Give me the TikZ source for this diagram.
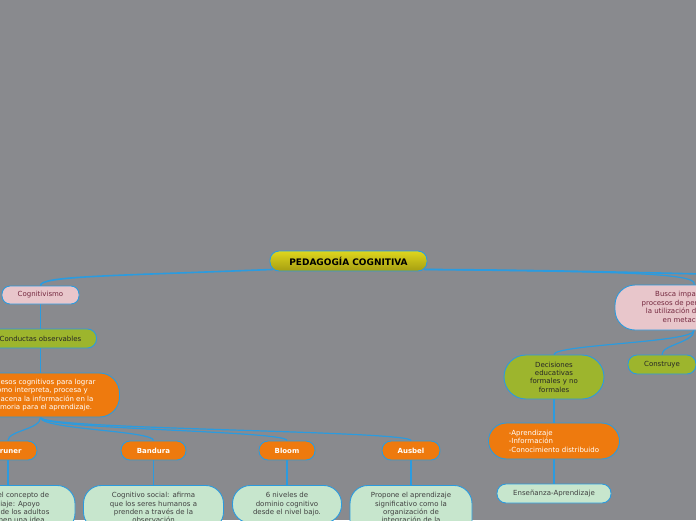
\documentclass[tikz,border=0pt]{standalone}
\usepackage{fontspec}
\setmainfont{DejaVu Sans}
\usetikzlibrary{positioning}
\definecolor{bggray}{HTML}{898A8E}
\definecolor{linkblue}{HTML}{2B9BDF}
\definecolor{mmorange}{HTML}{EE7A0E}
\definecolor{mmgreen}{HTML}{9DB52D}
\definecolor{mmpink}{HTML}{E8C6CB}
\definecolor{mmmint}{HTML}{C7E6CD}
\definecolor{mmyellowA}{HTML}{DED61E}
\definecolor{mmyellowB}{HTML}{A69E12}
\definecolor{mmmaroon}{HTML}{74283F}
\pgfdeclarelayer{bg}
\pgfsetlayers{bg,main}

\begin{document}
\begin{tikzpicture}[
  x=1pt, y=-1pt,
  every node/.style={draw=linkblue, line width=0.9pt, align=center, inner sep=2pt,
    font=\fontsize{7}{8.4}\selectfont},
  titlebox/.style={top color=mmyellowA, bottom color=mmyellowB, rounded corners=9pt,
    minimum width=157pt, minimum height=20pt, font=\fontsize{9}{10}\selectfont\bfseries},
  pinkbox/.style={fill=mmpink, text=mmmaroon},
  greenbox/.style={fill=mmgreen, text=black!85},
  orangebox/.style={fill=mmorange, text=white},
  mintbox/.style={fill=mmmint, text=black!75},
  namebox/.style={orangebox, rounded corners=9pt, minimum height=19pt,
    font=\fontsize{7}{8.4}\selectfont\bfseries},
  notebox/.style={mintbox, anchor=north, rounded corners=18pt, inner ysep=7pt},
  link/.style={draw=linkblue, line width=1.2pt}
]
\useasboundingbox (0,0) rectangle (696,520);
\clip (0,0) rectangle (696,520);

% Central topic
\node[titlebox] (title) at (348.5,261) {PEDAGOGÍA COGNITIVA};

% Left branch
\node[pinkbox, rounded corners=8pt, minimum width=77pt, minimum height=18pt] (cogn) at (40.5,295) {Cognitivismo};
\node[greenbox, rounded corners=9pt, minimum width=112pt, minimum height=19pt] (conduct) at (40.5,338.5) {Conductas observables};
\node[orangebox, rounded corners=20pt, minimum width=158pt, minimum height=44pt] (proc) at (40.5,395) {Procesos cognitivos para lograr\\cómo interpreta, procesa y\\almacena la información en la\\memoria para el aprendizaje.};

% Authors
\node[namebox, minimum width=58pt] (bruner) at (8,450.5) {Bruner};
\node[namebox, minimum width=65pt] (bandura) at (153.5,450.5) {Bandura};
\node[namebox, minimum width=56pt] (bloom) at (287,450.5) {Bloom};
\node[namebox, minimum width=58pt] (ausbel) at (411,450.5) {Ausbel};

% Author notes
\node[notebox, minimum width=134pt] (brunerN) at (8,485) {Propone el concepto de\\andamiaje: Apoyo\\temporal de los adultos\\que formen una idea};
\node[notebox, minimum width=140pt] (banduraN) at (153.5,485) {Cognitivo social: afirma\\que los seres humanos a\\prenden a través de la\\observación};
\node[notebox, minimum width=109pt] (bloomN) at (287,485) {6 niveles de\\dominio cognitivo\\desde el nivel bajo.};
\node[notebox, minimum width=122pt] (ausbelN) at (411,485) {Propone el aprendizaje\\significativo como la\\organización de\\integración de la\\información};

% Right branch
\node[pinkbox, rounded corners=20pt, minimum width=158pt, minimum height=45pt] (busca) at (694,307.5) {Busca impactar en los\\procesos de pensamiento con\\la utilización de estrategias\\en metacognición};
\node[greenbox, rounded corners=22pt, minimum width=100pt, minimum height=44pt] (decis) at (554,377) {Decisiones\\educativas\\formales y no\\formales};
\node[greenbox, rounded corners=9pt, minimum width=68pt, minimum height=19pt] (constr) at (662,364.5) {Construye};
\node[orangebox, align=left, rounded corners=18pt, minimum width=131pt, minimum height=36pt] (info) at (554,441) {-Aprendizaje\\-Información\\-Conocimiento distribuido};
\node[mintbox, rounded corners=9pt, minimum width=114pt, minimum height=19pt] (ense) at (554,493.5) {Enseñanza-Aprendizaje};

\coordinate (offright) at (820,277);

\begin{pgfonlayer}{bg}
\fill[bggray] (0,0) rectangle (696,520);

% Links from the central topic
\draw[link, line width=1.6pt] ([xshift=3pt,yshift=2pt]title.south west) .. controls (110,276) and (40.5,276) .. (cogn.north);
\draw[link, line width=1.6pt] ([xshift=-3pt,yshift=2pt]title.south east) .. controls (560,270) and (700,274) .. (offright);
\draw[link] ([xshift=-3pt,yshift=2pt]title.south east) .. controls (600,272) and (700,272) .. (busca.north);

% Left branch links
\draw[link] (cogn) -- (conduct);
\draw[link] (conduct) -- (proc);
\draw[link] (proc.south) .. controls +(0,12) and +(0,-10) .. (bruner.north);
\draw[link] (proc.south) .. controls +(0,12) and +(0,-10) .. (bandura.north);
\draw[link] (proc.south) .. controls +(0,12) and +(0,-10) .. (bloom.north);
\draw[link] (proc.south) .. controls +(0,12) and +(0,-10) .. (ausbel.north);
\draw[link] (bruner) -- (brunerN);
\draw[link] (bandura) -- (banduraN);
\draw[link] (bloom) -- (bloomN);
\draw[link] (ausbel) -- (ausbelN);

% Right branch links
\draw[link] (busca.south) .. controls +(0,12) and +(0,-10) .. (decis.north);
\draw[link] (busca.south) .. controls +(0,12) and +(0,-10) .. (constr.north);
\draw[link] (decis) -- (info);
\draw[link] (info) -- (ense);
\end{pgfonlayer}

\end{tikzpicture}
\end{document}
